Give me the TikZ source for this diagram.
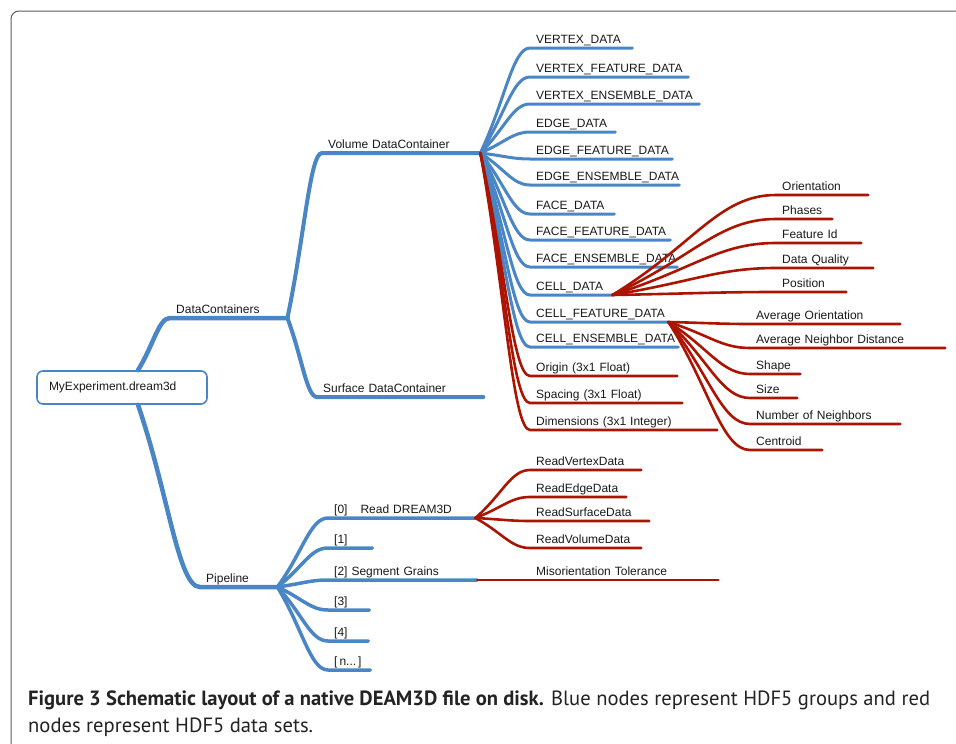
\documentclass[tikz,border=0pt]{standalone}
\usepackage{fontspec}
\setmainfont{Liberation Sans}
\newfontfamily\capfont{PT Sans}
\usetikzlibrary{calc}

\definecolor{grpblue}{RGB}{74,134,197}
\definecolor{setred}{RGB}{170,20,0}
\definecolor{framegray}{RGB}{90,90,90}
\definecolor{capgray}{RGB}{35,35,35}

\tikzset{
  twig/.style={to path={.. controls ($(\tikztostart)!.5!(\tikztotarget)$) and ($(\tikztotarget)!.35!(\tikztostart |- \tikztotarget)$) .. (\tikztotarget) \tikztonodes}},
  lbl/.style={anchor=south west, inner xsep=6pt, inner ysep=4.5pt, text depth=0pt, align=left, text=black!90, font=\fontsize{12}{14}\selectfont},
  grp/.style={draw=grpblue, line width=3pt, line cap=round},
  dset/.style={draw=setred, line width=2.6pt, line cap=round},
  captxt/.style={anchor=base west, inner sep=0pt, text=capgray, font=\capfont\fontsize{20.6}{24}\selectfont}
}

\begin{document}
\begin{tikzpicture}[x=1pt,y=-1pt]
  \useasboundingbox (0,0) rectangle (956,744);
  \draw[framegray, line width=1pt, rounded corners=8pt] (11,744) |- (956,11);

  % the file
  \node[draw=grpblue, line width=1.6pt, rounded corners=6pt, minimum height=33pt,
        text width=146pt, inner xsep=12pt, align=left, text=black!90,
        font=\fontsize{12}{14}\selectfont] (root) at (122,387.5) {MyExperiment.dream3d};
  \coordinate (rtop) at ([xshift=16pt]root.north);
  \coordinate (rbot) at ([xshift=16pt]root.south);

  % groups
  \node[lbl, text width=105pt] (dc) at (170,318) {DataContainers};
  \node[lbl, text width=65pt] (pl) at (200,587) {Pipeline};
  \node[lbl, text width=146pt] (vol) at (322,153) {Volume DataContainer};
  \node[lbl, text width=154pt] (sur) at (317,397) {Surface DataContainer};

  \node[lbl, text width=90pt] (vd) at (530,48) {VERTEX\_DATA};
  \node[lbl, text width=146pt] (vfd) at (530,77) {VERTEX\_FEATURE\_DATA};
  \node[lbl, text width=157pt] (ved) at (530,104) {VERTEX\_ENSEMBLE\_DATA};
  \node[lbl, text width=73pt] (ed) at (530,132) {EDGE\_DATA};
  \node[lbl, text width=130pt] (efd) at (530,159) {EDGE\_FEATURE\_DATA};
  \node[lbl, text width=137pt] (eed) at (530,185) {EDGE\_ENSEMBLE\_DATA};
  \node[lbl, text width=72pt] (fd) at (530,214) {FACE\_DATA};
  \node[lbl, text width=128pt] (ffd) at (530,240) {FACE\_FEATURE\_DATA};
  \node[lbl, text width=135pt] (fed) at (530,267) {FACE\_ENSEMBLE\_DATA};
  \node[lbl, text width=70pt] (cd) at (530,295) {CELL\_DATA};
  \node[lbl, text width=126pt] (cfd) at (530,322) {CELL\_FEATURE\_DATA};
  \node[lbl, text width=136pt] (ced) at (530,347) {CELL\_ENSEMBLE\_DATA};

  \node[lbl, text width=135pt] (p0) at (328,518) {[0]\hspace{13pt}Read DREAM3D};
  \node[lbl, text width=32pt] (p1) at (328,548) {[1]};
  \node[lbl, text width=137pt] (p2) at (328,580) {[2] Segment Grains};
  \node[lbl, text width=29pt] (p3) at (328,610) {[3]};
  \node[lbl, text width=28pt] (p4) at (328,641) {[4]};
  \node[lbl, text width=30pt] (pn) at (328,670) {[\,n...\,]};

  % data sets
  \node[lbl, text width=135pt] (org) at (530,376) {Origin (3x1 Float)};
  \node[lbl, text width=140pt] (spc) at (530,403) {Spacing (3x1 Float)};
  \node[lbl, text width=175pt] (dim) at (530,430) {Dimensions (3x1 Integer)};

  \node[lbl, text width=80pt] (ori) at (776,195) {Orientation};
  \node[lbl, text width=44pt] (pha) at (776,219) {Phases};
  \node[lbl, text width=73pt] (fid) at (776,243) {Feature Id};
  \node[lbl, text width=85pt] (dq) at (776,268) {Data Quality};
  \node[lbl, text width=58pt] (pos) at (776,292) {Position};

  \node[lbl, text width=138pt] (avo) at (750,324) {Average Orientation};
  \node[lbl, text width=183pt] (avn) at (750,348) {Average Neighbor Distance};
  \node[lbl, text width=38pt] (shp) at (750,374) {Shape};
  \node[lbl, text width=35pt] (siz) at (750,398) {Size};
  \node[lbl, text width=138pt] (nnb) at (750,424) {Number of Neighbors};
  \node[lbl, text width=60pt] (cen) at (750,450) {Centroid};

  \node[lbl, text width=99pt] (rvx) at (530,470) {ReadVertexData};
  \node[lbl, text width=84pt] (rdg) at (530,497) {ReadEdgeData};
  \node[lbl, text width=107pt] (rsf) at (530,521) {ReadSurfaceData};
  \node[lbl, text width=99pt] (rvl) at (530,548) {ReadVolumeData};
  \node[lbl, text width=176pt] (mis) at (530,580) {Misorientation Tolerance};

  % blue branches
  \draw[grp, line width=4.5pt] (rtop) to[twig] (dc.south west) -- (dc.south east);
  \draw[grp, line width=4.5pt] (rbot) to[twig] (pl.south west) -- (pl.south east);
  \draw[grp, line width=4pt] (dc.south east) to[twig] (vol.south west) -- (vol.south east);
  \draw[grp, line width=4pt] (dc.south east) to[twig] (sur.south west) -- (sur.south east);

  \draw[grp] (vol.south east) to[twig] (vd.south west) -- (vd.south east);
  \draw[grp] (vol.south east) to[twig] (vfd.south west) -- (vfd.south east);
  \draw[grp] (vol.south east) to[twig] (ved.south west) -- (ved.south east);
  \draw[grp] (vol.south east) to[twig] (ed.south west) -- (ed.south east);
  \draw[grp] (vol.south east) to[twig] (efd.south west) -- (efd.south east);
  \draw[grp] (vol.south east) to[twig] (eed.south west) -- (eed.south east);
  \draw[grp] (vol.south east) to[twig] (fd.south west) -- (fd.south east);
  \draw[grp] (vol.south east) to[twig] (ffd.south west) -- (ffd.south east);
  \draw[grp] (vol.south east) to[twig] (fed.south west) -- (fed.south east);
  \draw[grp] (vol.south east) to[twig] (cd.south west) -- (cd.south east);
  \draw[grp] (vol.south east) to[twig] (cfd.south west) -- (cfd.south east);
  \draw[grp] (vol.south east) to[twig] (ced.south west) -- (ced.south east);

  \draw[grp, line width=3.5pt] (pl.south east) to[twig] (p0.south west) -- (p0.south east);
  \draw[grp, line width=3.5pt] (pl.south east) to[twig] (p1.south west) -- (p1.south east);
  \draw[grp, line width=3.5pt] (pl.south east) to[twig] (p2.south west) -- (p2.south east);
  \draw[grp, line width=3.5pt] (pl.south east) to[twig] (p3.south west) -- (p3.south east);
  \draw[grp, line width=3.5pt] (pl.south east) to[twig] (p4.south west) -- (p4.south east);
  \draw[grp, line width=3.5pt] (pl.south east) to[twig] (pn.south west) -- (pn.south east);

  % red branches
  \draw[dset] (vol.south east) to[twig] (org.south west) -- (org.south east);
  \draw[dset] (vol.south east) to[twig] (spc.south west) -- (spc.south east);
  \draw[dset] (vol.south east) to[twig] (dim.south west) -- (dim.south east);

  \draw[dset] (cd.south east) to[twig] (ori.south west) -- (ori.south east);
  \draw[dset] (cd.south east) to[twig] (pha.south west) -- (pha.south east);
  \draw[dset] (cd.south east) to[twig] (fid.south west) -- (fid.south east);
  \draw[dset] (cd.south east) to[twig] (dq.south west) -- (dq.south east);
  \draw[dset] (cd.south east) to[twig] (pos.south west) -- (pos.south east);

  \draw[dset] (cfd.south east) to[twig] (avo.south west) -- (avo.south east);
  \draw[dset] (cfd.south east) to[twig] (avn.south west) -- (avn.south east);
  \draw[dset] (cfd.south east) to[twig] (shp.south west) -- (shp.south east);
  \draw[dset] (cfd.south east) to[twig] (siz.south west) -- (siz.south east);
  \draw[dset] (cfd.south east) to[twig] (nnb.south west) -- (nnb.south east);
  \draw[dset] (cfd.south east) to[twig] (cen.south west) -- (cen.south east);

  \draw[dset] (p0.south east) to[twig] (rvx.south west) -- (rvx.south east);
  \draw[dset] (p0.south east) to[twig] (rdg.south west) -- (rdg.south east);
  \draw[dset] (p0.south east) to[twig] (rsf.south west) -- (rsf.south east);
  \draw[dset] (p0.south east) to[twig] (rvl.south west) -- (rvl.south east);
  \draw[dset] (p2.south east) to[twig] (mis.south west) -- (mis.south east);

  % caption
  \node[captxt] (cap1) at (28,705) {\textbf{Figure 3 Schematic layout of a native DEAM3D file on disk.} Blue nodes represent HDF5 groups and red};
  \node[captxt] (cap2) at (28,732) {nodes represent HDF5 data sets.};
\end{tikzpicture}
\end{document}
